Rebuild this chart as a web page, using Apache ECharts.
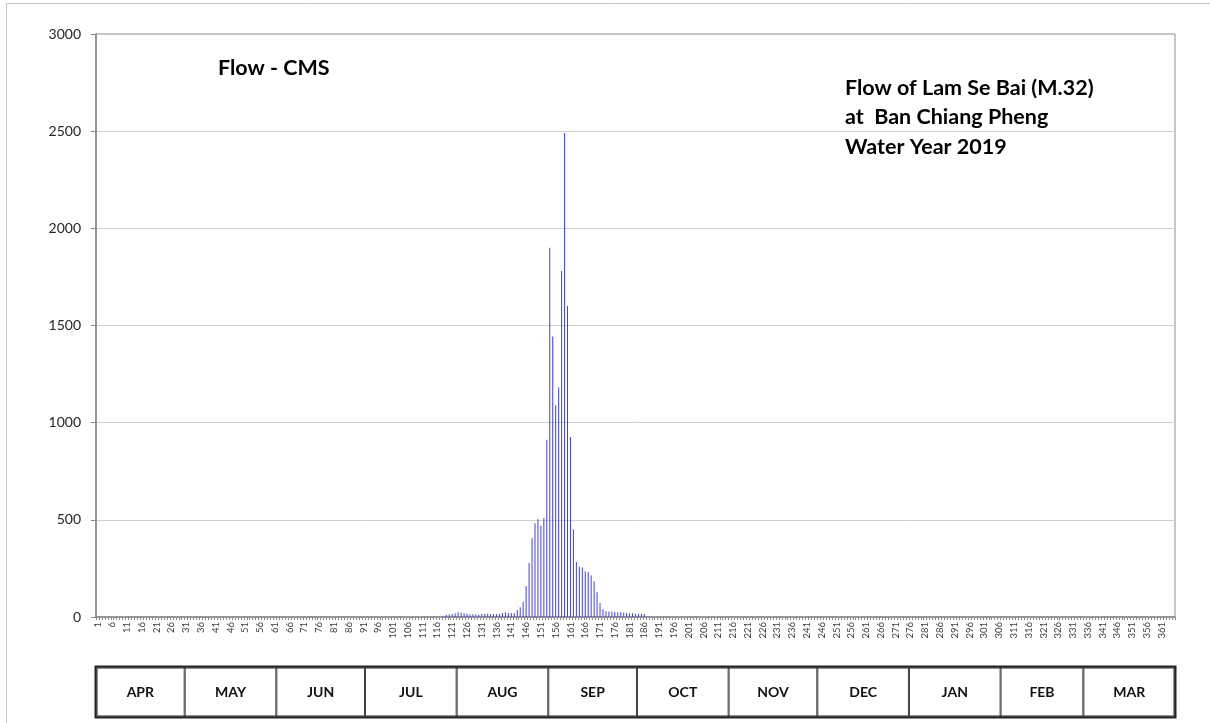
<!DOCTYPE html>
<html><head><meta charset="utf-8">
<script src="https://cdn.jsdelivr.net/npm/echarts@6/dist/echarts.min.js"></script>
<style>html,body{margin:0;padding:0;background:#fff}#c{width:1210px;height:723px}</style>
</head><body><div id="c"></div>
<script>
// Day numbers of the water year (tick labels)
const days = [];
for (let d = 1; d <= 365; d++) days.push(String(d));

// Daily flow (CMS), day 1 = 1 April
const flow = [
  0,0,0,0,0,0,0,0,0,0,   // 1-10
  0,0,0,0,0,0,0,0,0,0,   // 11-20
  0,0,0,0,0,0,0,0,0,0,   // 21-30
  0,0,0,0,0,0,0,0,0,0,   // 31-40
  0,0,0,0,0,0,0,0,0,0,   // 41-50
  0,0,0,0,0,0,0,0,0,0,   // 51-60
  0,0,0,0,0,0,0,0,0,0,   // 61-70
  0,0,0,0,0,0,0,0,0,0,   // 71-80
  0,0,0,0,0,0,0,0,0,0,   // 81-90
  0,0,0,0,0,0,0,0,0,0,   // 91-100
  0,0,0,0,0,0,0,0,0,0,   // 101-110
  0,0,0,0,0,0,0,         // 111-117
  3,10,14,               // 118-120
  15,19,24,22,19,17,14,14,14,12,        // 121-130
  15,17,17,15,15,15,17,21,24,21,        // 131-140
  21,19,36,50,79,160,278,405,483,503,   // 141-150
  469,509,912,1900,1443,1090,1181,1780,2490,1600, // 151-160
  926,452,283,259,255,236,231,214,184,128,        // 161-170
  72,40,29,28,28,26,24,24,22,21,        // 171-180
  19,19,17,17,17,15,                    // 181-186
  0,0,0,0,                              // 187-190
  0,0,0,0,0,0,0,0,0,0,   // 191-200
  0,0,0,0,0,0,0,0,0,0,   // 201-210
  0,0,0,0,0,0,0,0,0,0,   // 211-220
  0,0,0,0,0,0,0,0,0,0,   // 221-230
  0,0,0,0,0,0,0,0,0,0,   // 231-240
  0,0,0,0,0,0,0,0,0,0,   // 241-250
  0,0,0,0,0,0,0,0,0,0,   // 251-260
  0,0,0,0,0,0,0,0,0,0,   // 261-270
  0,0,0,0,0,0,0,0,0,0,   // 271-280
  0,0,0,0,0,0,0,0,0,0,   // 281-290
  0,0,0,0,0,0,0,0,0,0,   // 291-300
  0,0,0,0,0,0,0,0,0,0,   // 301-310
  0,0,0,0,0,0,0,0,0,0,   // 311-320
  0,0,0,0,0,0,0,0,0,0,   // 321-330
  0,0,0,0,0,0,0,0,0,0,   // 331-340
  0,0,0,0,0,0,0,0,0,0,   // 341-350
  0,0,0,0,0,0,0,0,0,0,   // 351-360
  0,0,0,0,0              // 361-365
];

// Month strip under the chart
const months = ['APR','MAY','JUN','JUL','AUG','SEP','OCT','NOV','DEC','JAN','FEB','MAR'];
const monthDays = [30,31,30,31,31,30,31,30,31,31,28,31];

// Y axis ticks
const yMin = 0, yMax = 3000, yStep = 500;

const chartTitle = 'Flow - CMS';
const stationTitle = ['Flow of Lam Se Bai (M.32)', 'at  Ban Chiang Pheng', 'Water Year 2019'];

const chart = echarts.init(document.getElementById('c'), null, {renderer: 'canvas'});

const monthSeries = months.map((m, i) => ({
  type: 'bar', xAxisIndex: 1, yAxisIndex: 1, stack: 'months',
  data: [monthDays[i]], barWidth: '100%', silent: true,
  itemStyle: {color: 'rgba(0,0,0,0)', borderColor: '#404040', borderWidth: 1},
  label: {show: true, position: 'inside', formatter: m, fontWeight: 'bold',
          fontSize: 14, color: '#111', fontFamily: 'Lato'}
}));

const option = {
  animation: false,
  textStyle: {fontFamily: 'Lato'},
  title: [
    {text: chartTitle, left: 218, top: 57, padding: 0,
     textStyle: {fontSize: 21.5, fontWeight: 'bold', color: '#000', lineHeight: 22, fontFamily: 'Lato'}},
    {text: stationTitle.join('\n'), left: 845, top: 73, padding: 0,
     textStyle: {fontSize: 21.5, fontWeight: 'bold', color: '#000', lineHeight: 29.5, fontFamily: 'Lato'}}
  ],
  graphic: [{
    type: 'rect', silent: true, z: -10,
    shape: {x: 6.5, y: 3.5, width: 1260, height: 800},
    style: {fill: 'none', stroke: '#c4c4c4', lineWidth: 1}
  }],
  grid: [
    {left: 96, top: 34, width: 1079, height: 583, show: true, borderColor: '#8c8c8c', borderWidth: 1},
    {left: 96, top: 667, width: 1079, height: 50, show: true, borderColor: '#262626', borderWidth: 3}
  ],
  xAxis: [
    {type: 'category', data: days, gridIndex: 0, boundaryGap: true,
     axisLine: {lineStyle: {color: '#868686', width: 1.5}},
     axisTick: {show: true, interval: 0, length: 3, lineStyle: {color: '#8a8a8a'}},
     axisLabel: {interval: 4, rotate: 90, fontSize: 9.5, color: '#404040', margin: 5}},
    {type: 'value', gridIndex: 1, min: 0, max: 365, show: false}
  ],
  yAxis: [
    {type: 'value', gridIndex: 0, min: yMin, max: yMax, interval: yStep,
     axisLine: {show: true, lineStyle: {color: '#868686', width: 1.5}},
     axisTick: {show: true, length: 5, lineStyle: {color: '#868686'}},
     axisLabel: {fontSize: 14, color: '#262626', margin: 15, formatter: v => String(v)},
     splitLine: {show: true, showMaxLine: false, lineStyle: {color: '#cfcfcf'}}},
    {type: 'category', gridIndex: 1, data: ['m'], show: false}
  ],
  series: [
    {type: 'bar', xAxisIndex: 0, yAxisIndex: 0, data: flow, barWidth: 1,
     itemStyle: {color: '#4040ea'}},
    ...monthSeries
  ]
};
chart.setOption(option);
</script></body></html>
